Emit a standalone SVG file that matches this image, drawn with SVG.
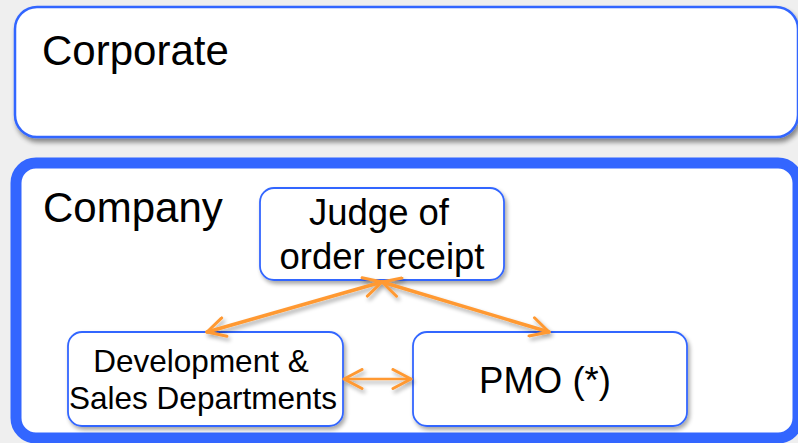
<svg xmlns="http://www.w3.org/2000/svg" width="798" height="443" viewBox="0 0 798 443">
  <style>
    .box { fill: #ffffff; stroke: #3366ff; }
    .label { font-family: "Liberation Sans", Arial, sans-serif; fill: #000000; }
    .conn { stroke: #ff9933; stroke-linecap: round; fill: none; }
  </style>
  <defs>
    <filter id="shadow" x="-10%" y="-10%" width="130%" height="140%">
      <feGaussianBlur in="SourceAlpha" stdDeviation="2.5"/>
      <feOffset dx="2" dy="4" result="b"/>
      <feComponentTransfer><feFuncA type="linear" slope="0.45"/></feComponentTransfer>
      <feMerge><feMergeNode/><feMergeNode in="SourceGraphic"/></feMerge>
    </filter>
    <filter id="shadowSmall" x="-10%" y="-10%" width="130%" height="140%">
      <feGaussianBlur in="SourceAlpha" stdDeviation="2"/>
      <feOffset dx="2" dy="3" result="b"/>
      <feComponentTransfer><feFuncA type="linear" slope="0.35"/></feComponentTransfer>
      <feMerge><feMergeNode/><feMergeNode in="SourceGraphic"/></feMerge>
    </filter>
    <marker id="arrow" viewBox="0 0 22 22" refX="20" refY="11" markerWidth="22" markerHeight="22" markerUnits="userSpaceOnUse" orient="auto-start-reverse">
      <path d="M2,1.5 L20,11 L2,20.5" fill="none" stroke="#ff9933" stroke-width="3" stroke-linecap="round" stroke-linejoin="round"/>
    </marker>
  </defs>
  <rect x="0" y="0" width="798" height="443" fill="#efefef"/>

  <g id="corporate">
    <rect class="box" x="15" y="7" width="783" height="130" rx="22" ry="22" stroke-width="2.5" filter="url(#shadow)"/>
    <text class="label" x="42" y="65" font-size="42">Corporate</text>
  </g>

  <g id="company">
    <rect class="box" x="16" y="163" width="782" height="275" rx="20" ry="20" stroke-width="11"/>
    <text class="label" x="43" y="222" font-size="42">Company</text>
  </g>

  <g id="judge">
    <rect class="box" x="260" y="188" width="244" height="92" rx="14" ry="14" stroke-width="1.8" filter="url(#shadowSmall)"/>
    <text class="label" x="379" y="225" font-size="36.5" text-anchor="middle">Judge of</text>
    <text class="label" x="382" y="269" font-size="36.5" text-anchor="middle">order receipt</text>
  </g>

  <g id="dev">
    <rect class="box" x="68" y="332" width="275" height="94" rx="14" ry="14" stroke-width="1.8" filter="url(#shadowSmall)"/>
    <text class="label" x="201" y="372" font-size="31.5" text-anchor="middle">Development &amp;</text>
    <text class="label" x="203" y="409" font-size="31.5" text-anchor="middle">Sales Departments</text>
  </g>

  <g id="pmo">
    <rect class="box" x="413" y="332" width="274" height="94" rx="14" ry="14" stroke-width="1.8" filter="url(#shadowSmall)"/>
    <text class="label" x="545" y="393" font-size="36.5" text-anchor="middle">PMO (*)</text>
  </g>

  <g id="connectors" filter="url(#shadowSmall)">
    <line class="conn" x1="382" y1="282" x2="207" y2="332" stroke-width="3.5" marker-start="url(#arrow)" marker-end="url(#arrow)"/>
    <line class="conn" x1="382" y1="282" x2="549" y2="332" stroke-width="3.5" marker-start="url(#arrow)" marker-end="url(#arrow)"/>
    <line class="conn" x1="344" y1="379" x2="411" y2="379" stroke-width="2.5" marker-start="url(#arrow)" marker-end="url(#arrow)"/>
  </g>
</svg>
